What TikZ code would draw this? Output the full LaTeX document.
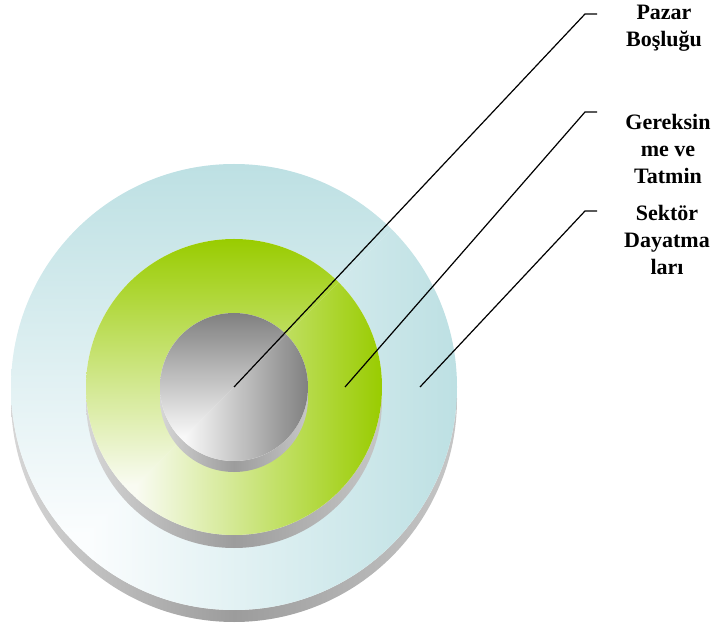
\documentclass[tikz,border=0pt]{standalone}
\usepackage{fontspec}
\setmainfont{Liberation Serif}
\definecolor{blueFar}{HTML}{BDE0E3}
\definecolor{blueNear}{HTML}{FBFDFE}
\definecolor{greenFar}{HTML}{99CC00}
\definecolor{greenNear}{HTML}{F9FBF2}
\definecolor{grayFar}{HTML}{808080}
\definecolor{grayNear}{HTML}{F8F8F8}
\definecolor{sideL}{HTML}{D6D6D6}
\definecolor{sideM}{HTML}{9C9C9C}
\definecolor{sideR}{HTML}{C6C6C6}
% #1 cx, #2 cy, #3 r, #4 near colour, #5 far colour, #6 side depth
\newcommand\mydisk[6]{%
  \shade[left color=sideL, right color=sideR, middle color=sideM] (#1,#2-#6) circle (#3);
  \begin{scope}
    \clip (#1,#2) circle (#3);
    \fill[#4] (#1-#3,#2-#3) rectangle (#1+#3,#2+#3);
    \shade[left color=#4, right color=#5]
      (#1-0.66*#3,#2-#3) -- (#1+#3,#2-#3) -- (#1+#3,#2+#3) -- (#1-0.66*#3,#2-0.66*#3) -- cycle;
    \shade[top color=#5, bottom color=#4]
      (#1-#3,#2-0.66*#3) -- (#1-#3,#2+#3) -- (#1+#3,#2+#3) -- (#1-0.66*#3,#2-0.66*#3) -- cycle;
  \end{scope}}
\tikzset{
  leader/.style={draw=black, line width=1.2pt},
  lbl/.style={font=\fontsize{22}{27}\selectfont\bfseries, align=center, anchor=north, inner sep=0pt}
}
\begin{document}
\begin{tikzpicture}[x=1pt,y=1pt]
\useasboundingbox (0,0) rectangle (719,629);
\mydisk{234}{242}{223}{blueNear}{blueFar}{12}
\mydisk{234}{242}{148}{greenNear}{greenFar}{13}
\mydisk{234}{242}{74}{grayNear}{grayFar}{11}
\coordinate (s1) at (234,242);
\coordinate (s2) at (345,242);
\coordinate (s3) at (420,242);
\coordinate (b1) at (585,615);
\coordinate (b2) at (585,517);
\coordinate (b3) at (585,418);
\coordinate (e1) at (597,615);
\coordinate (e2) at (597,517);
\coordinate (e3) at (597,418);
\draw[leader] (s1) -- (b1) -- (e1);
\draw[leader] (s2) -- (b2) -- (e2);
\draw[leader] (s3) -- (b3) -- (e3);
\node[lbl] (l1) at (664,624) {Pazar\\Boşluğu};
\node[lbl] (l2) at (668,515) {Gereksin\\me ve\\Tatmin};
\node[lbl] (l3) at (667,424) {Sektör\\Dayatma\\ları};
\end{tikzpicture}
\end{document}
